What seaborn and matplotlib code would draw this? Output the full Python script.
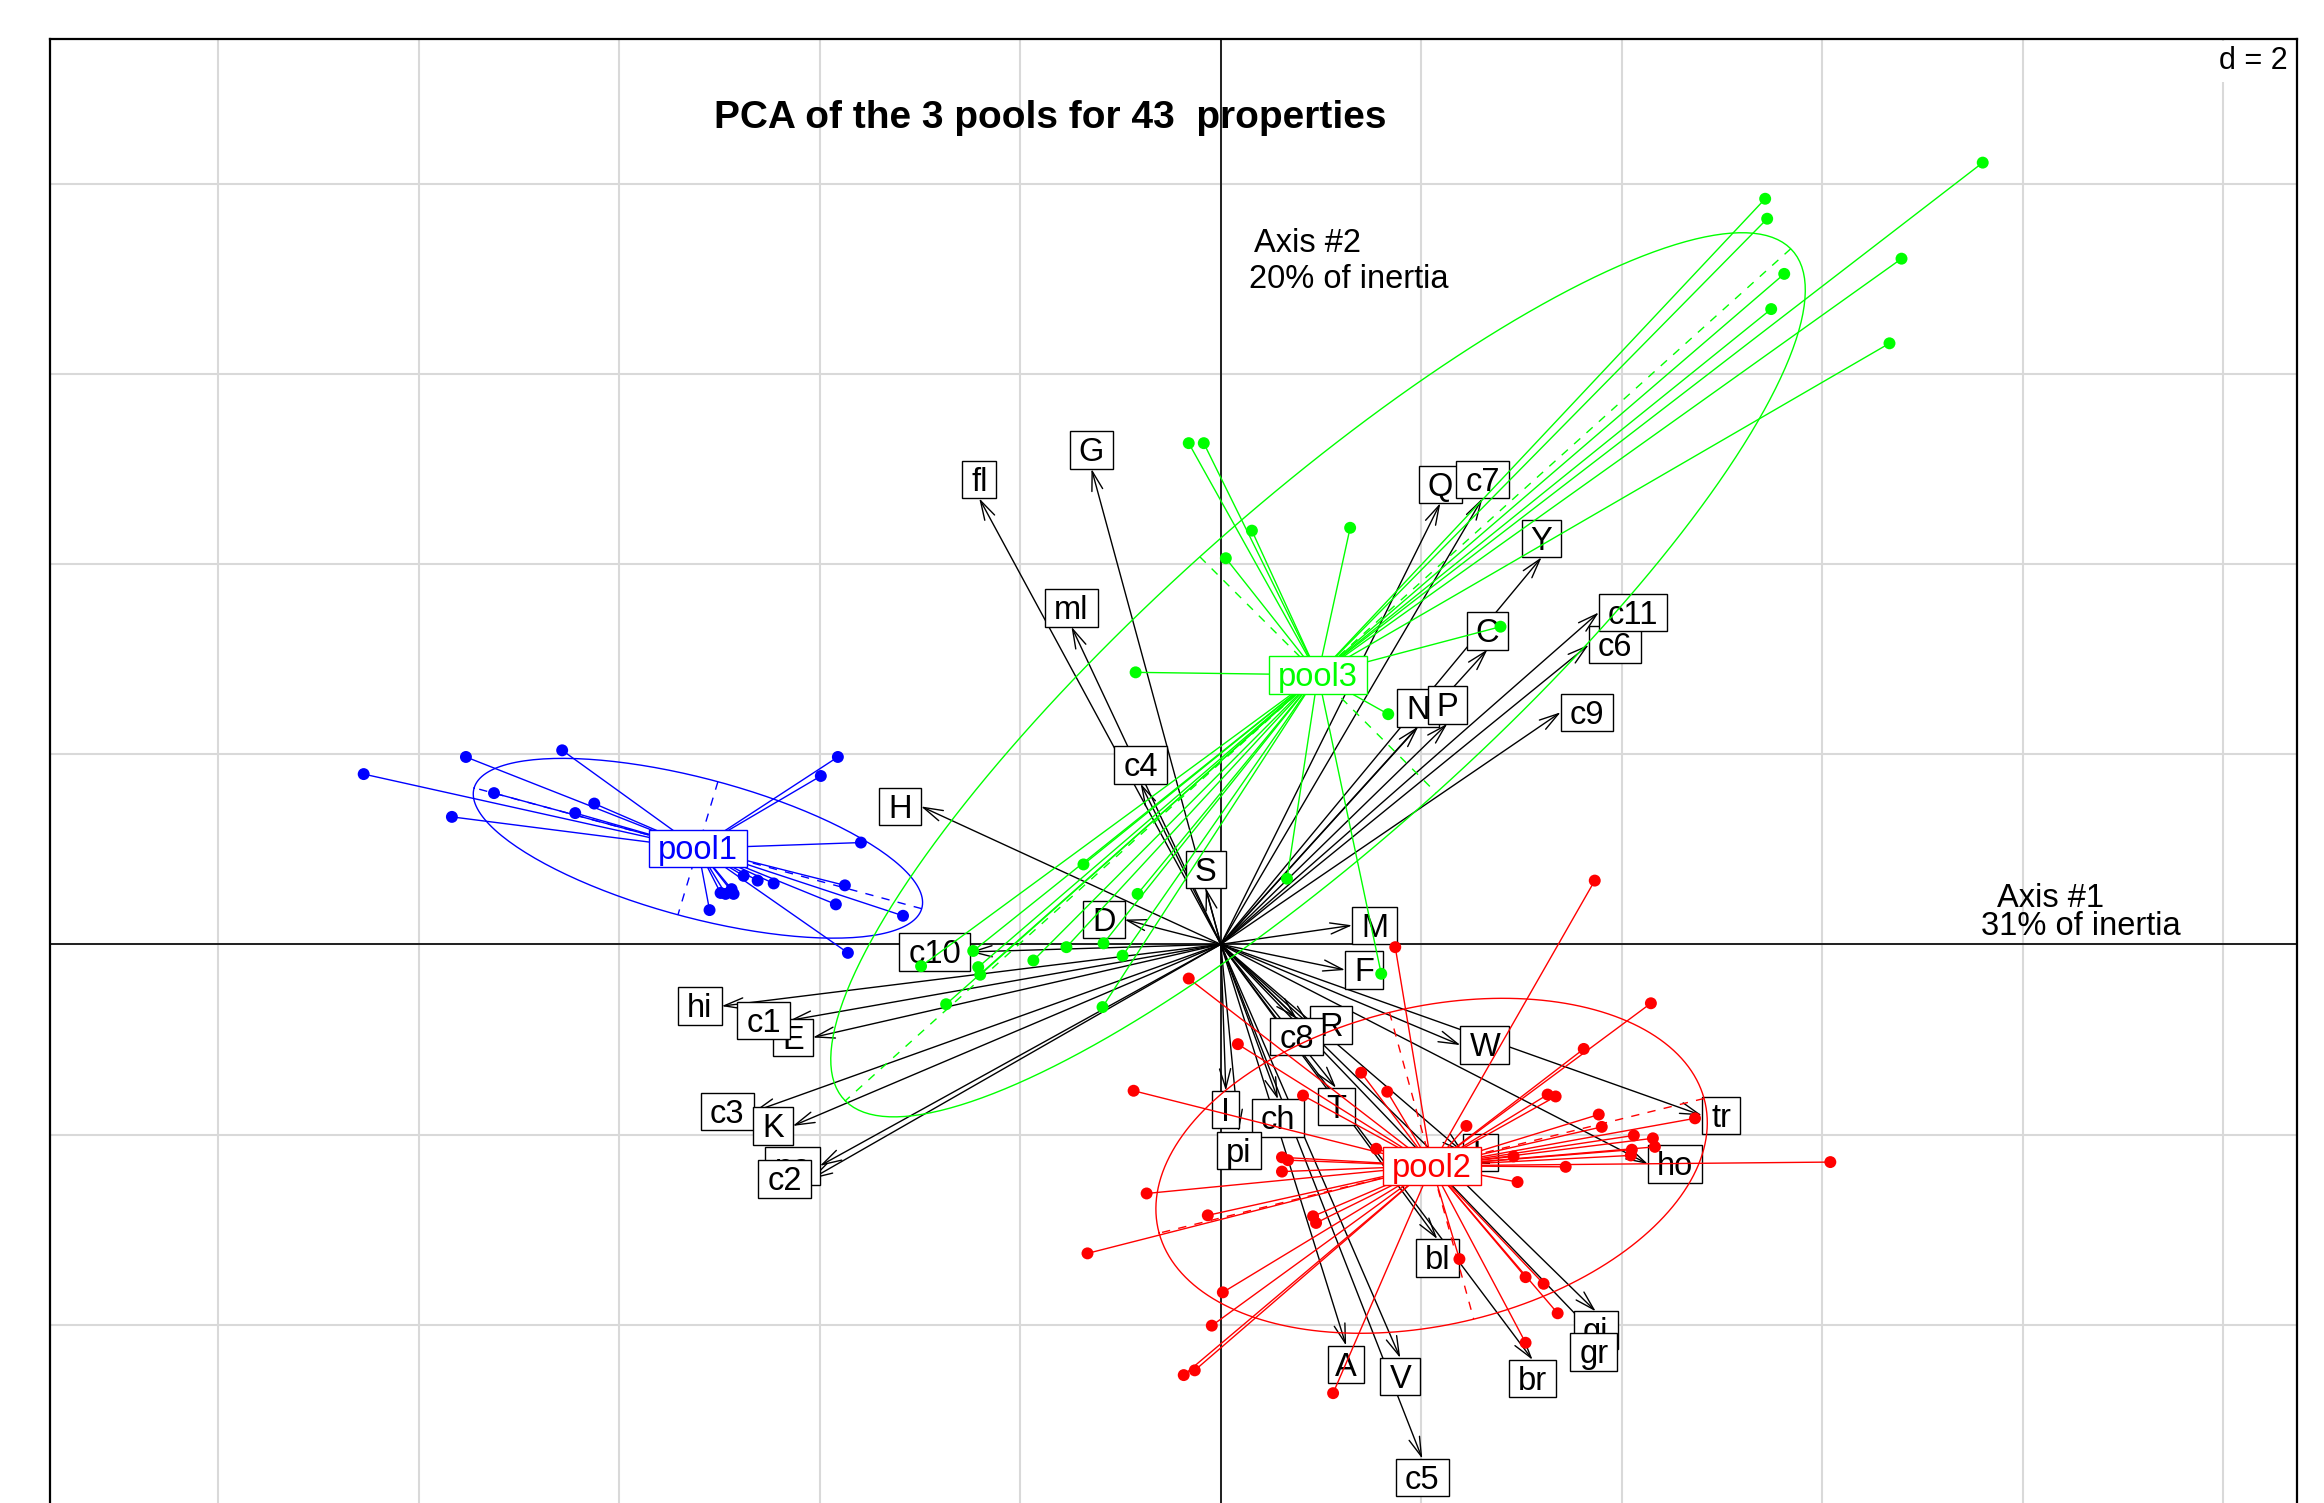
"""
PCA of the 3 pools for 43 properties: ade4-style class plot (s.class)
over a correlation arrow plot (s.arrow), redrawn with seaborn/matplotlib.
"""

import numpy as np
import pandas as pd
import matplotlib
matplotlib.use("Agg")
import matplotlib.pyplot as plt
import seaborn as sns
from matplotlib.collections import LineCollection
from matplotlib.patches import Rectangle
from matplotlib.transforms import IdentityTransform
from matplotlib.font_manager import FontProperties
from matplotlib.textpath import text_to_path

TITLE = "PCA of the 3 pools for 43  properties"
GRID_D = 2
INERTIA_AX1 = 31
INERTIA_AX2 = 20

# arrow tips of the 43 properties (drawing order = stacking order of boxes)
var_labels = ["fl", "G", "Q", "c7", "Y", "ml", "C", "c6", "c11", "c9",
              "N", "P", "c4", "H", "S", "D", "M", "F", "c10", "hi",
              "E", "c1", "c3", "K", "po", "c2", "R", "c8", "W", "tr",
              "I", "ch", "T", "pi", "L", "ho", "bl", "gi", "gr", "br",
              "A", "V", "c5"]
var_x = [-2.41, -1.29, 2.19, 2.61, 3.20, -1.49, 2.66, 3.67, 3.77, 3.39,
         1.97, 2.26, -0.80, -2.99, -0.15, -0.96, 1.31, 1.24, -2.50, -4.98,
         -4.07, -4.30, -4.66, -4.27, -4.00, -4.09, 0.89, 0.755, 2.39, 4.80,
         0.05, 0.57, 1.15, 0.18, 2.42, 4.26, 2.16, 3.74, 3.72, 3.11,
         1.25, 1.79, 2.01]
var_y = [4.69, 5.00, 4.64, 4.69, 4.07, 3.34, 3.10, 3.15, 3.49, 2.44,
         2.29, 2.32, 1.69, 1.45, 0.59, 0.26, 0.20, -0.27, -0.08, -0.65,
         -0.98, -0.80, -1.76, -1.91, -2.33, -2.47, -0.85, -0.775, -1.06, -1.80,
         -1.54, -1.63, -1.51, -1.97, -2.19, -2.31, -3.10, -3.86, -4.09, -4.37,
         -4.22, -4.35, -5.41]

# row scores of each pool
pool1_x = [-8.55, -7.53, -6.57, -3.82, -3.99, -7.25, -6.25, -6.44, -7.67, -3.59,
           -3.75, -3.84, -4.46, -4.62, -4.76, -4.99, -4.88, -4.94, -4.86, -5.10,
           -3.72, -3.17]
pool1_y = [1.79, 1.97, 2.04, 1.97, 1.77, 1.59, 1.48, 1.38, 1.34, 1.07,
           0.62, 0.42, 0.64, 0.67, 0.72, 0.54, 0.58, 0.53, 0.53, 0.36,
           -0.09, 0.30]

pool2_x = [-0.32, 0.17, -0.87, 0.82, 1.40, 1.66, 2.45, 0.61, 0.67, 0.61,
           -0.74, -0.13, 0.92, 0.95, -1.33, 0.02, -0.09, -0.26, -0.37, 1.12,
           2.38, 2.96, 1.55, 3.73, 4.29, 3.62, 3.26, 3.34, 3.77, 3.80,
           4.73, 4.12, 4.31, 4.33, 4.10, 4.09, 6.08, 3.44, 2.92, 3.04,
           3.22, 3.36, 3.04, 1.74]
pool2_y = [-0.36, -1.05, -1.54, -1.59, -1.35, -1.55, -1.91, -2.24, -2.27, -2.39,
           -2.62, -2.85, -2.86, -2.93, -3.25, -3.66, -4.01, -4.48, -4.53, -4.72,
           -3.31, -2.50, -2.15, 0.67, -0.62, -1.10, -1.58, -1.60, -1.79, -1.92,
           -1.83, -2.01, -2.04, -2.13, -2.16, -2.22, -2.29, -2.34, -2.23, -3.50,
           -3.57, -3.88, -4.19, -0.03]

pool3_x = [7.60, 5.43, 5.45, 5.62, 5.49, 6.79, 6.67, -0.32, -0.17, 0.31,
           1.29, 0.05, -0.85, 2.79, 1.67, 0.66, 1.60, -1.37, -0.83, -1.17,
           -1.54, -0.98, -1.87, -2.47, -2.42, -2.40, -2.99, -2.74, -1.18]
pool3_y = [8.22, 7.84, 7.63, 7.05, 6.68, 7.21, 6.32, 5.27, 5.27, 4.35,
           4.38, 4.06, 2.86, 3.34, 2.42, 0.69, -0.31, 0.84, 0.53, 0.01,
           -0.03, -0.12, -0.17, -0.07, -0.24, -0.32, -0.23, -0.63, -0.66]

pool_names = ["pool1", "pool2", "pool3"]
pool_colors = {"pool1": "#0000ff", "pool2": "#ff0000", "pool3": "#00ff00"}

DPI = 100
LAB_PT = 23.5
FONT = "Liberation Sans"


def class_ellipse(x, y, coeff=1.5, n=200):
    """Centroid, ellipse outline and principal half-axes (ade4 cellipse)."""
    mx, my = x.mean(), y.mean()
    cov = np.cov(np.vstack([x, y]), bias=True)
    vals, vecs = np.linalg.eigh(cov)
    order = vals.argsort()[::-1]
    vals, vecs = vals[order], vecs[:, order]
    a = coeff * np.sqrt(vals[0]) * vecs[:, 0]
    b = coeff * np.sqrt(vals[1]) * vecs[:, 1]
    t = np.linspace(0, 2 * np.pi, n + 1)
    ex = mx + a[0] * np.cos(t) + b[0] * np.sin(t)
    ey = my + a[1] * np.cos(t) + b[1] * np.sin(t)
    return (mx, my), ex, ey, a, b


lab_fp = FontProperties(family=FONT, size=LAB_PT)


def advance_px(s):
    w1 = text_to_path.get_text_width_height_descent("M" + s + "M", lab_fp, ismath=False)[0]
    w0 = text_to_path.get_text_width_height_descent("MM", lab_fp, ismath=False)[0]
    return (w1 - w0) * DPI / 72.0


cap_px = text_to_path.get_text_width_height_descent("M", lab_fp, ismath=False)[1] * DPI / 72.0


def boxed_label(ax, cx, cy, text, color, z):
    w = advance_px(" " + text + " ")
    h = 5.0 / 3.0 * cap_px
    ax.add_patch(Rectangle((cx - w / 2, cy - h / 2), w, h, transform=IdentityTransform(),
                           facecolor="white", edgecolor=color, lw=1.0, zorder=z))
    ax.text(cx, cy - cap_px / 2, text, transform=IdentityTransform(), ha="center",
            va="baseline", fontsize=LAB_PT, color=color, zorder=z + 0.5, family=FONT)


sns.set_theme(style="white")
plt.rcParams["font.family"] = [FONT, "DejaVu Sans"]
plt.rcParams["text.color"] = "black"

fig = plt.figure(figsize=(23.24, 15.03), dpi=DPI)
ax = fig.add_axes([49.5 / 2324, 0.0, (2297 - 49.5) / 2324, 1 - 39 / 1503])
XLIM = (-11.684, 10.735)
YLIM = (-5.875, 9.520)
ax.set_xlim(*XLIM)
ax.set_ylim(*YLIM)
ax.set_xticks([])
ax.set_yticks([])
for side in ["left", "top", "right"]:
    ax.spines[side].set_color("black")
    ax.spines[side].set_linewidth(1.6)
ax.spines["bottom"].set_visible(False)

# grid (d = 2) and the two axes
for v in np.arange(-10, 11, GRID_D):
    ax.axvline(v, color="#d9d9d9", lw=1.5, zorder=0.5)
for v in np.arange(-4, 10, GRID_D):
    ax.axhline(v, color="#d9d9d9", lw=1.5, zorder=0.5)
ax.axhline(0, color="black", lw=1.2, zorder=1)
ax.axvline(0, color="black", lw=1.2, zorder=1)

# arrows of the properties
for lab, x, y in zip(var_labels, var_x, var_y):
    ax.annotate("", xy=(x, y), xytext=(0, 0),
                arrowprops=dict(arrowstyle="->,head_length=1.4,head_width=0.4",
                                color="black", lw=1.0, shrinkA=0, shrinkB=0,
                                mutation_scale=10),
                zorder=2)

# property labels placed outside the tip (ade4 eti.circ rule)
for i, (lab, x, y) in enumerate(zip(var_labels, var_x, var_y)):
    tx, ty = ax.transData.transform((x, y))
    w = advance_px(" " + lab + " ")
    h = 5.0 / 3.0 * cap_px
    if x > y and x > -y:
        cx, cy = tx + w / 2, ty
    elif x > y and x <= -y:
        cx, cy = tx, ty - h / 2
    elif x <= y and x <= -y:
        cx, cy = tx - w / 2, ty
    else:
        cx, cy = tx, ty + h / 2
    boxed_label(ax, cx, cy, lab, "black", 3 + 2 * i)

# classes
pools = {"pool1": (pool1_x, pool1_y), "pool2": (pool2_x, pool2_y), "pool3": (pool3_x, pool3_y)}
df = pd.concat([pd.DataFrame({"x": px, "y": py, "pool": name})
                for name, (px, py) in pools.items()], ignore_index=True)

centers = {}
for name in pool_names:
    sub = df[df["pool"] == name]
    c, ex, ey, a, b = class_ellipse(sub["x"].to_numpy(), sub["y"].to_numpy())
    centers[name] = c
    col = pool_colors[name]
    segs = [[(px, py), c] for px, py in zip(sub["x"], sub["y"])]
    ax.add_collection(LineCollection(segs, colors=col, lw=1.0, zorder=100))
    ax.plot(ex, ey, color=col, lw=1.0, zorder=101)
    for half in (a, b):
        ax.plot([c[0] - half[0], c[0] + half[0]], [c[1] - half[1], c[1] + half[1]],
                color=col, lw=1.0, ls=(0, (6, 6)), zorder=101)

sns.scatterplot(data=df, x="x", y="y", hue="pool", palette=pool_colors, s=74,
                linewidth=0, legend=False, ax=ax, zorder=102)
ax.set_xlabel("")
ax.set_ylabel("")
ax.set_xlim(*XLIM)
ax.set_ylim(*YLIM)

for k, name in enumerate(pool_names):
    cx, cy = ax.transData.transform(centers[name])
    boxed_label(ax, cx, cy, name, pool_colors[name], 200 + 2 * k)

# axis annotations
ax.text(0.331, 7.28, "Axis #2", fontsize=LAB_PT, ha="left", va="baseline", zorder=300)
ax.text(0.281, 6.90, f"{INERTIA_AX2}% of inertia", fontsize=LAB_PT, ha="left",
        va="baseline", zorder=300)
ax.text(7.739, 0.392, "Axis #1", fontsize=LAB_PT, ha="left", va="baseline", zorder=300)
ax.text(7.583, 0.098, f"{INERTIA_AX1}% of inertia", fontsize=LAB_PT, ha="left",
        va="baseline", zorder=300)

fig.text(1049.8 / 2324, 1 - 127.7 / 1503, TITLE, ha="center", va="baseline",
         fontsize=28, fontweight="bold")
fig.text(2288 / 2324, 1 - 46 / 1503, f"d = {GRID_D}", ha="right", va="top", fontsize=22,
         bbox=dict(facecolor="white", edgecolor="none", pad=4))

fig.savefig("out.png", dpi=DPI)
